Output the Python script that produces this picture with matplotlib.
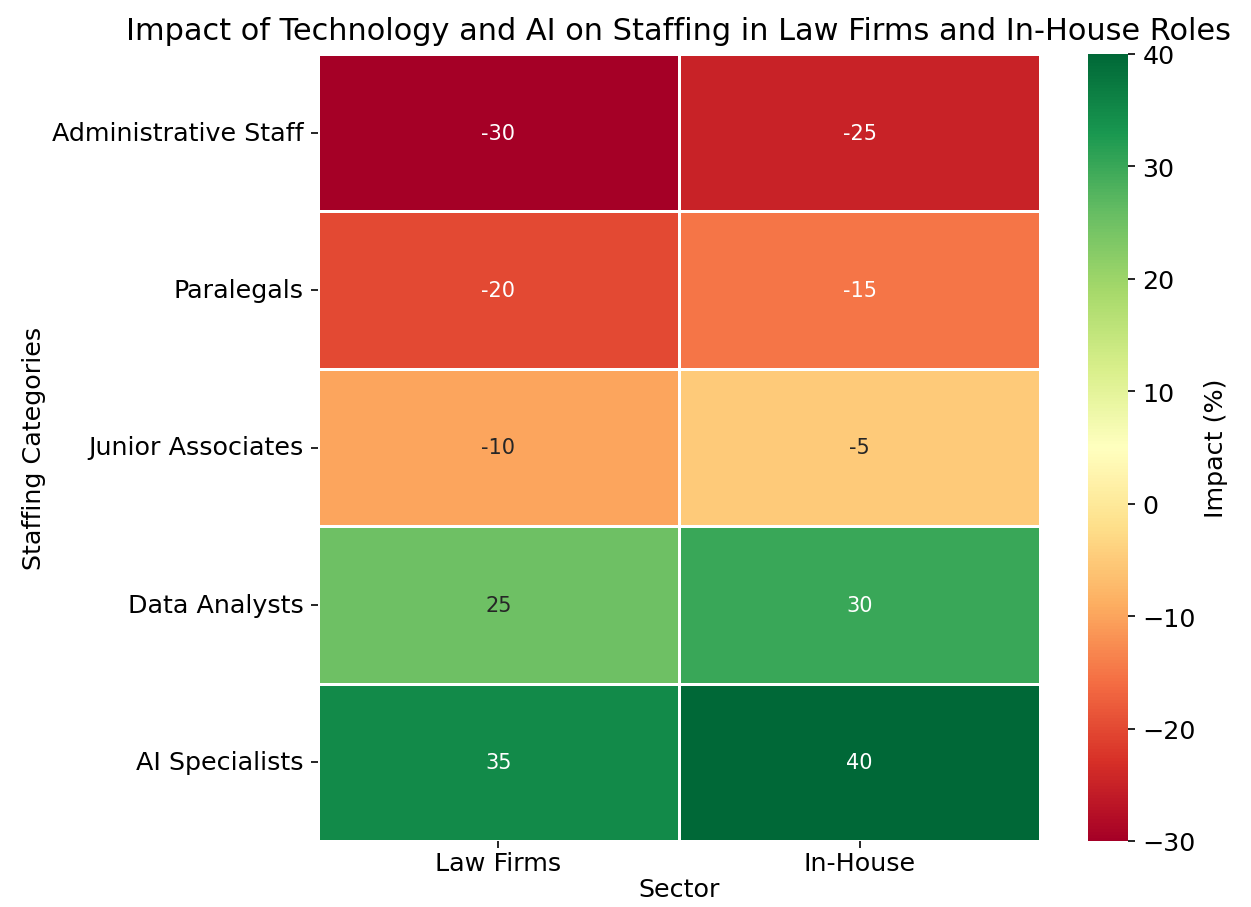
import numpy as np
import matplotlib
matplotlib.use('Agg')
import matplotlib.pyplot as plt
import seaborn as sns

CATEGORIES = ['Administrative Staff', 'Paralegals', 'Junior Associates', 'Data Analysts', 'AI Specialists']
SECTORS = ['Law Firms', 'In-House']
LAW_FIRMS = [-30, -20, -10, 25, 35]
IN_HOUSE = [-25, -15, -5, 30, 40]


def plot():
    data = np.array([LAW_FIRMS, IN_HOUSE]).T

    fig = plt.figure(figsize=(8.34, 6.053), dpi=150)
    ax = fig.add_axes([318 / 1251, 1 - 842 / 908, (1040 - 318) / 1251, (842 - 55) / 908])
    cax = fig.add_axes([1088 / 1251, 1 - 842 / 908, (1128 - 1088) / 1251, (842 - 55) / 908])

    sns.heatmap(data, annot=True, fmt='d', cmap='RdYlGn', linewidths=0.5, linecolor='white',
                xticklabels=SECTORS, yticklabels=CATEGORIES, ax=ax, cbar_ax=cax,
                annot_kws={'fontsize': 10})

    ax.set_title('Impact of Technology and AI on Staffing in Law Firms and In-House Roles',
                 fontsize=14.6, pad=7)
    ax.set_xlabel('Sector', fontsize=12.2, labelpad=1)
    ax.set_ylabel('Staffing Categories', fontsize=12.2, labelpad=3)
    ax.tick_params(axis='y', rotation=0, labelsize=12.2)
    ax.tick_params(axis='x', labelsize=12.2, pad=1.5)
    cax.tick_params(labelsize=12.2)
    cax.set_ylabel('Impact (%)', fontsize=12.2)

    fig.savefig('out.png', dpi=150)


if __name__ == "__main__":
    plot()
